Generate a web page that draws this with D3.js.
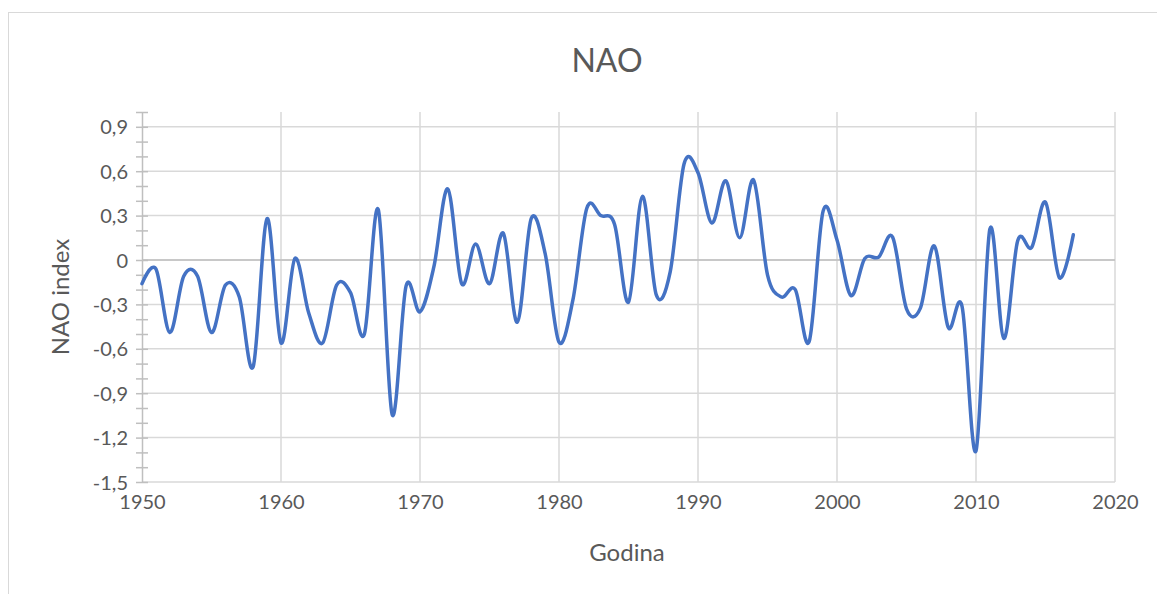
<!DOCTYPE html>
<html>
<head>
<meta charset="utf-8">
<script src="https://cdn.jsdelivr.net/npm/d3@7"></script>
<style>
  html, body { margin: 0; padding: 0; background: #fff; }
  svg text { font-family: Lato, "Open Sans", sans-serif; fill: #595959; }
</style>
</head>
<body>
<div id="chart"></div>
<script>
// NAO index per year
var years = d3.range(1950, 2018);
var naoValues = [
  -0.16, -0.06, -0.49, -0.11, -0.11, -0.49, -0.17, -0.25, -0.72, 0.28,
  -0.56, 0.01, -0.36, -0.56, -0.17, -0.22, -0.50, 0.34, -1.045, -0.175,
  -0.35, -0.045, 0.48, -0.16, 0.108, -0.16, 0.18, -0.42, 0.28, 0.045,
  -0.555, -0.27, 0.35, 0.30, 0.24, -0.285, 0.43, -0.236, -0.08, 0.65,
  0.59, 0.25, 0.535, 0.15, 0.54, -0.10, -0.25, -0.20, -0.55, 0.33,
  0.135, -0.24, 0.01, 0.02, 0.155, -0.33, -0.325, 0.095, -0.455, -0.315,
  -1.29, 0.21, -0.53, 0.13, 0.085, 0.39, -0.12, 0.17
];
var xTicks = [1950, 1960, 1970, 1980, 1990, 2000, 2010, 2020];
var yTicks = [-1.5, -1.2, -0.9, -0.6, -0.3, 0, 0.3, 0.6, 0.9];
var yMinorTicks = d3.range(-15, 11).map(function(d){ return d / 10; });

var chartTitle = "NAO";
var xTitle = "Godina";
var yTitle = "NAO index";

var W = 1157, H = 594;
var plot = {left: 142, right: 1115, top: 112, bottom: 482};

var svg = d3.select('#chart').append('svg')
  .attr('width', W)
  .attr('height', H);

// chart frame
svg.append('rect')
  .attr('x', 8.5).attr('y', 12.5)
  .attr('width', W + 10).attr('height', H + 10)
  .attr('fill', 'none')
  .attr('stroke', '#d9d9d9')
  .attr('stroke-width', 1);

var x = d3.scaleLinear().domain([1950, 2020]).range([plot.left, plot.right]);
var y = d3.scaleLinear().domain([-1.5, 1.0]).range([plot.bottom, plot.top]);

function fmt(v){
  if (Math.abs(v) < 1e-9) return '0';
  return d3.format('.1f')(v).replace('\u2212', '-').replace('.', ',');
}

// horizontal gridlines
svg.append('g')
  .selectAll('line')
  .data(yTicks)
  .enter().append('line')
  .attr('x1', plot.left).attr('x2', plot.right)
  .attr('y1', function(d){ return y(d); })
  .attr('y2', function(d){ return y(d); })
  .attr('stroke', '#d9d9d9')
  .attr('stroke-width', 1.5);

// vertical gridlines
svg.append('g')
  .selectAll('line')
  .data(xTicks.slice(1))
  .enter().append('line')
  .attr('x1', function(d){ return x(d); })
  .attr('x2', function(d){ return x(d); })
  .attr('y1', plot.top).attr('y2', plot.bottom)
  .attr('stroke', '#d9d9d9')
  .attr('stroke-width', 1.5);

// horizontal axis line crossing at 0
svg.append('line')
  .attr('x1', plot.left).attr('x2', plot.right)
  .attr('y1', y(0)).attr('y2', y(0))
  .attr('stroke', '#bfbfbf')
  .attr('stroke-width', 1.5);

// y axis with crossing minor ticks
var yAxisG = svg.append('g')
  .attr('transform', 'translate(' + plot.left + ',0)');
yAxisG.call(d3.axisLeft(y).tickValues(yMinorTicks).tickSize(6).tickSizeOuter(0).tickFormat(''));
yAxisG.select('.domain').attr('stroke', '#bfbfbf').attr('stroke-width', 1.5);
yAxisG.selectAll('.tick line')
  .attr('x1', 6).attr('x2', -6)
  .attr('stroke', '#bfbfbf')
  .attr('stroke-width', 1.5);

// y tick labels
var yLab = svg.append('g')
  .attr('transform', 'translate(' + (plot.left - 14) + ',0)')
  .call(d3.axisLeft(y).tickValues(yTicks).tickSize(0).tickFormat(fmt));
yLab.select('.domain').remove();
yLab.selectAll('text')
  .attr('x', 0)
  .style('font-size', '20px')
  .attr('dy', '0.35em');

// x tick labels
var xLab = svg.append('g')
  .attr('transform', 'translate(0,' + (plot.bottom + 11) + ')')
  .call(d3.axisBottom(x).tickValues(xTicks).tickSize(0).tickFormat(d3.format('d')));
xLab.select('.domain').remove();
xLab.selectAll('text')
  .attr('y', 0)
  .attr('dy', '0.8em')
  .style('font-size', '20px');

// data line
var line = d3.line()
  .x(function(d, i){ return x(years[i]); })
  .y(function(d){ return y(d); })
  .curve(d3.curveCatmullRom.alpha(0));

svg.append('path')
  .datum(naoValues)
  .attr('d', line)
  .attr('fill', 'none')
  .attr('stroke', '#4472c4')
  .attr('stroke-width', 3.5)
  .attr('stroke-linejoin', 'round')
  .attr('stroke-linecap', 'round');

// titles
svg.append('text')
  .attr('x', 607).attr('y', 72)
  .attr('text-anchor', 'middle')
  .style('font-size', '32px')
  .text(chartTitle);

svg.append('text')
  .attr('x', 627).attr('y', 561)
  .attr('text-anchor', 'middle')
  .style('font-size', '24px')
  .text(xTitle);

svg.append('text')
  .attr('transform', 'translate(69,' + ((plot.top + plot.bottom) / 2) + ') rotate(-90)')
  .attr('text-anchor', 'middle')
  .style('font-size', '24px')
  .text(yTitle);
</script>
</body>
</html>
